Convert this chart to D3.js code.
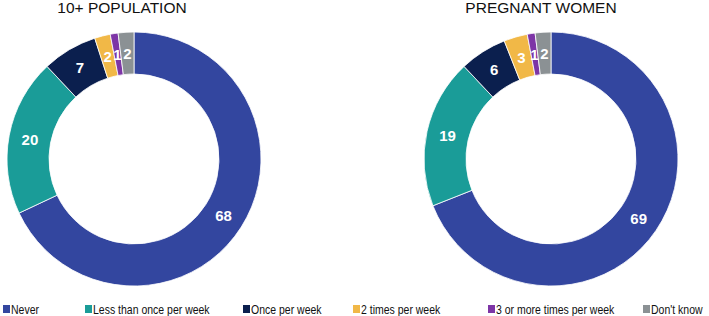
<!DOCTYPE html>
<html>
<head>
<meta charset="utf-8">
<script src="https://cdn.jsdelivr.net/npm/d3@7"></script>
<style>
  body { margin: 0; background: #fff; }
  text { font-family: "Liberation Sans", Arial, sans-serif; }
</style>
</head>
<body>
<div id="chart"></div>
<script>
// categories and values
var categories = ["Never", "Less than once per week", "Once per week", "2 times per week", "3 or more times per week", "Don't know"];
var colors = ["#33469f", "#1a9c98", "#0b1f4e", "#f1b847", "#7d35a6", "#8b9194"];
var titles = ["10+ POPULATION", "PREGNANT WOMEN"];
var population = [68, 20, 7, 2, 1, 2];
var pregnant = [69, 19, 6, 3, 1, 2];

var width = 709, height = 316;

var svg = d3.select("#chart")
    .append("svg")
    .attr("width", width)
    .attr("height", height);

var color = d3.scaleOrdinal().domain(categories).range(colors);

var pie = d3.pie().sort(null).value(function (d) { return d.value; });
var arc = d3.arc().innerRadius(85).outerRadius(127);
var labelArc = d3.arc().innerRadius(106).outerRadius(106);

var donuts = [
    { title: titles[0], values: population, cx: 134, titleX: 122 },
    { title: titles[1], values: pregnant, cx: 551, titleX: 541 }
];

donuts.forEach(function (dn) {
    var rows = categories.map(function (c, i) { return { key: c, value: dn.values[i] }; });

    svg.append("text")
        .attr("x", dn.titleX)
        .attr("y", 13)
        .attr("text-anchor", "middle")
        .attr("font-size", "15.5px")
        .attr("fill", "#111")
        .text(dn.title);

    var g = svg.append("g")
        .attr("transform", "translate(" + dn.cx + ",159)");

    g.selectAll("path")
        .data(pie(rows))
        .enter()
        .append("path")
        .attr("d", arc)
        .attr("fill", function (d) { return color(d.data.key); })
        .attr("stroke", "white")
        .attr("stroke-width", 0.8);

    g.selectAll(".lbl")
        .data(pie(rows))
        .enter()
        .append("text")
        .attr("class", "lbl")
        .attr("transform", function (d) { return "translate(" + labelArc.centroid(d) + ")"; })
        .attr("text-anchor", "middle")
        .attr("dy", "0.36em")
        .attr("font-size", "15px")
        .attr("font-weight", "bold")
        .attr("fill", "white")
        .text(function (d) { return d.data.value; });
});

// legend
var legendX = [3, 85, 243, 353, 488, 643];
var legend = svg.selectAll(".legend")
    .data(categories)
    .enter()
    .append("g")
    .attr("class", "legend")
    .attr("transform", function (d, i) { return "translate(" + legendX[i] + ",305)"; });

legend.append("rect")
    .attr("width", 7)
    .attr("height", 8)
    .attr("fill", function (d) { return color(d); });

legend.append("text")
    .attr("transform", "translate(8,8.5) scale(0.84,1)")
    .attr("font-size", "12.5px")
    .attr("fill", "#111")
    .text(function (d) { return d; });
</script>
</body>
</html>
